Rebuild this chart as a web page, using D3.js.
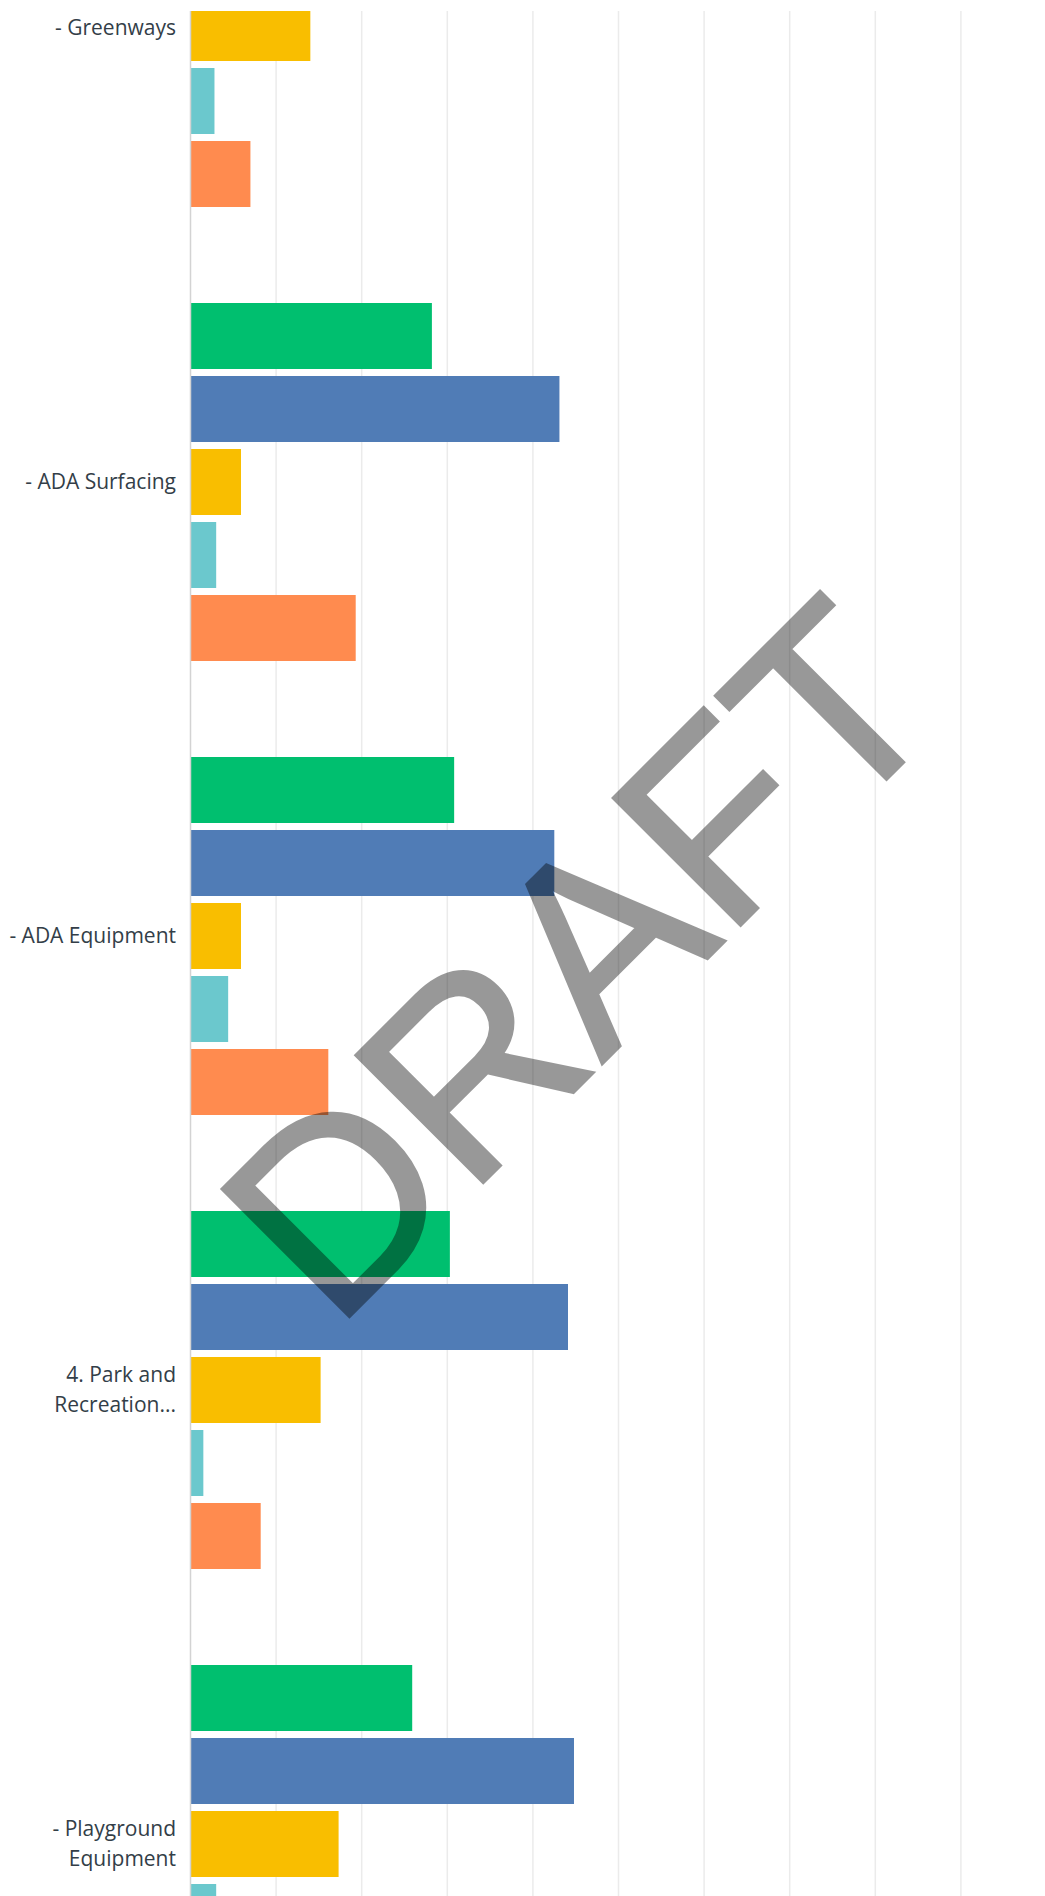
<!DOCTYPE html>
<html>

<head>
    <meta charset="UTF-8">
    <style>
        body { margin: 0; background: #fff; }
        svg { display: block; }
    </style>
</head>

<body>
    <svg></svg>
    <script src="https://d3js.org/d3.v7.min.js"></script>

    <script>
        const width = 1045;
        const height = 1896;

        // this is a window into a longer survey chart, so the band scale starts above the page
        const bandStart = -199;
        const groupStep = 454;
        const plotTop = 11;
        const axisLeft = 190.5;
        const labelRight = 176;

        // data
        const categories = ["- Greenways", "- ADA Surfacing", "- ADA Equipment",
            "4. Park and Recreation...", "- Playground Equipment"];
        const labelLines = [["- Greenways"], ["- ADA Surfacing"], ["- ADA Equipment"],
            ["4. Park and", "Recreation..."], ["- Playground", "Equipment"]];
        const seriesNames = ["series1", "series2", "series3", "series4", "series5"];
        const seriesColors = ["#00bf6f", "#507cb6", "#f9be00", "#6bc8cd", "#ff8b4f"];
        // percent of respondents, null = off the visible part
        const series1 = [null, 28.2, 30.8, 30.3, 25.9];
        const series2 = [null, 43.1, 42.5, 44.1, 44.8];
        const series3 = [14.0, 5.9, 5.9, 15.2, 17.3];
        const series4 = [2.8, 3.0, 4.4, 1.5, 3.0];
        const series5 = [7.0, 19.3, 16.1, 8.2, null];
        const allSeries = [series1, series2, series3, series4, series5];
        const tickValues = [0, 10, 20, 30, 40, 50, 60, 70, 80, 90, 100];

        const svg = d3.select("svg")
            .attr("width", width)
            .attr("height", height);

        svg.append("defs").append("clipPath")
            .attr("id", "plotclip")
            .append("rect")
            .attr("x", 0)
            .attr("y", plotTop)
            .attr("width", width)
            .attr("height", height - plotTop);

        const x = d3.scaleLinear()
            .domain([0, 100])
            .range([axisLeft, axisLeft + 856]);

        const pad = 96 / groupStep;
        const y0 = d3.scaleBand()
            .domain(categories)
            .range([bandStart, bandStart + groupStep * categories.length])
            .paddingInner(pad)
            .paddingOuter(pad / 2);

        const y1 = d3.scaleBand()
            .domain(seriesNames)
            .range([0, y0.bandwidth()])
            .paddingInner(7 / 73);

        const chart = svg.append("g").attr("clip-path", "url(#plotclip)");

        // vertical gridlines
        chart.append("g")
            .selectAll("line")
            .data(tickValues.slice(1))
            .join("line")
            .attr("x1", d => x(d))
            .attr("x2", d => x(d))
            .attr("y1", plotTop)
            .attr("y2", height)
            .attr("stroke", "#ebebeb")
            .attr("stroke-width", 1.5);

        // flatten into rows for the bars
        const rows = [];
        categories.forEach((c, i) => {
            seriesNames.forEach((s, j) => {
                const v = allSeries[j][i];
                if (v != null) rows.push({ cat: c, key: s, value: v, color: seriesColors[j] });
            });
        });

        chart.append("g")
            .selectAll("rect")
            .data(rows)
            .join("rect")
            .attr("x", x(0))
            .attr("y", d => y0(d.cat) + y1(d.key))
            .attr("width", d => x(d.value) - x(0))
            .attr("height", y1.bandwidth())
            .attr("fill", d => d.color);

        // left axis line
        chart.append("line")
            .attr("x1", x(0))
            .attr("x2", x(0))
            .attr("y1", plotTop)
            .attr("y2", height)
            .attr("stroke", "#d3d3d3")
            .attr("stroke-width", 1.5);

        // category labels
        const labels = chart.append("g")
            .attr("font-family", "'Open Sans', sans-serif")
            .attr("font-size", 21)
            .attr("fill", "#333e48")
            .attr("text-anchor", "end");

        categories.forEach((c, i) => {
            const cy = y0(c) + y0.bandwidth() / 2;
            const lines = labelLines[i];
            lines.forEach((t, k) => {
                labels.append("text")
                    .attr("x", labelRight)
                    .attr("y", cy + (k - (lines.length - 1) / 2) * 30)
                    .attr("dy", "0.35em")
                    .text(t);
            });
        });

        // watermark, group opacity so fill + stroke blend as one
        svg.append("text")
            .attr("transform", "translate(643,1023) rotate(-45)")
            .attr("text-anchor", "middle")
            .attr("font-family", "'Liberation Sans', Arial, sans-serif")
            .attr("font-size", 262)
            .attr("fill", "#000")
            .attr("stroke", "#000")
            .attr("stroke-width", 3)
            .attr("stroke-linejoin", "miter")
            .attr("opacity", 0.4)
            .text("DRAFT");
    </script>

</body>

</html>
